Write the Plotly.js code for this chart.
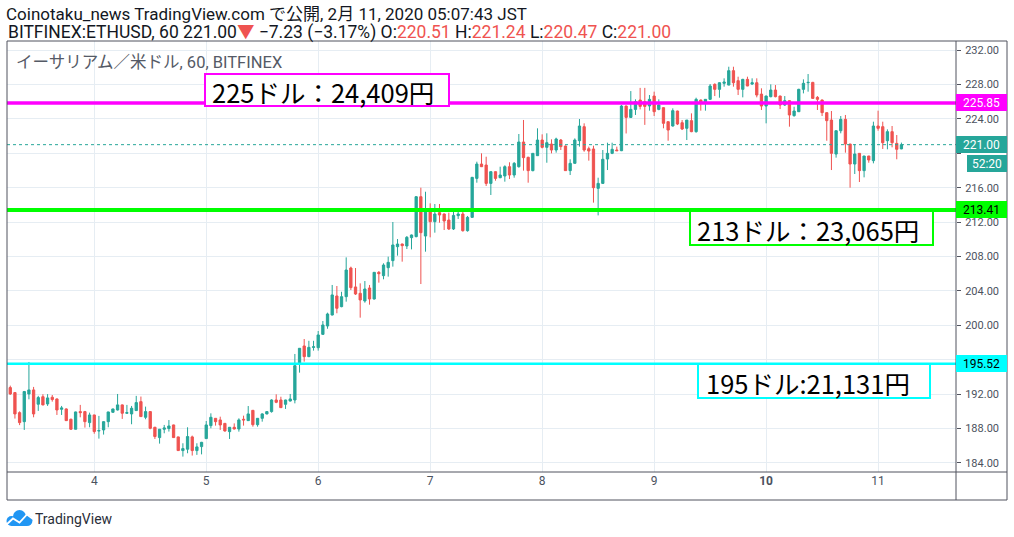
<!DOCTYPE html>
<html>
<head>
<meta charset="utf-8">
<script src="https://cdn.plot.ly/plotly-3.0.1.min.js"></script>
<style>
html,body{margin:0;padding:0;background:#fff;}
#chart{width:1014px;height:537px;}
</style>
</head>
<body>
<div id="chart"></div>
<script>
// ---- data (ETHUSD hourly, BITFINEX) ----
const startTime = '2020-02-03T06:00:00Z';
const openVals = [192.76,192.18,189.85,188.8,192.02,192.49,190.83,191.7,190.86,191.64,
191.44,190.24,190.28,189.08,187.92,189.97,189.97,188.69,189.58,187.72,
187.84,188.8,189.89,190.16,190.75,189.78,189.7,190.09,191.13,189.31,
189.97,188.15,186.95,187.92,188.0,188.42,187.03,185.44,185.6,187.03,
185.44,185.9,186.83,188.34,189.19,189.0,188.6,187.64,188.15,187.95,
189.08,188.92,190.12,188.45,189.19,189.7,189.97,191.32,191.32,190.82,
191.2,191.32,195.58,197.6,196.36,197.44,197.4,198.95,199.92,201.2,
203.41,202.17,203.33,206.66,204.46,203.72,202.83,204.34,203.06,206.16,
205.77,206.7,207.52,209.14,209.45,209.22,210.19,210.31,214.95,210.38,
213.48,212.05,213.1,212.94,212.24,211.2,212.75,212.94,211.0,212.55,
217.08,218.75,218.63,216.5,217.86,217.16,217.36,218.44,217.47,218.44,
221.31,219.53,217.98,219.72,221.54,220.69,221.07,220.38,221.54,220.84,
217.98,218.83,221.46,223.09,220.53,220.5,215.92,216.5,219.33,219.99,
220.38,220.3,225.49,224.17,225.1,226.19,226.0,225.5,226.65,225.1,
225.3,223.67,223.17,224.91,223.55,222.9,223.79,222.51,226.19,225.88,
226.27,228.01,227.43,228.13,227.93,229.6,228.44,227.43,228.59,228.05,
228.2,226.88,225.49,226.58,227.35,226.65,225.61,226.11,224.37,224.83,
227.43,228.2,228.24,226.5,226.19,224.72,223.86,219.91,222.62,223.94,
221.07,218.75,219.99,217.98,219.68,219.14,223.17,223.09,221.46,222.51,
221.15,220.51];
const highVals = [192.99,192.25,190.0,192.37,195.74,192.84,191.8,191.99,192.0,191.9,
191.5,190.63,190.35,189.15,189.97,190.75,190.05,189.85,189.6,189.47,
188.85,189.95,190.3,192.02,190.8,190.75,190.63,191.8,191.72,190.55,
190.0,188.2,187.95,188.42,188.99,188.45,187.05,186.29,188.15,187.18,
186.29,186.45,188.88,189.77,189.22,189.38,188.65,188.15,188.6,189.19,
189.5,190.62,190.15,189.22,189.78,189.97,191.4,191.98,191.7,191.35,
192.02,196.67,197.35,198.41,198.2,198.2,199.34,200.5,201.47,204.69,
204.57,203.9,207.9,206.82,206.66,204.88,205.15,204.69,206.2,206.31,
207.21,207.98,212.01,210.03,209.5,210.38,210.55,215.03,216.0,215.53,
214.18,214.1,214.1,213.0,213.1,213.21,213.29,213.48,212.71,217.25,
219.02,219.99,219.6,217.9,217.9,218.44,218.6,218.95,218.98,222.24,
223.87,219.6,220.0,222.9,222.2,222.32,221.62,221.81,221.66,220.9,
219.3,221.73,223.98,223.48,220.77,220.88,217.16,220.38,221.23,221.23,
220.77,225.6,225.55,227.23,226.27,227.6,227.6,226.77,227.16,226.27,
225.35,223.7,225.22,224.95,223.86,223.86,224.64,226.46,226.25,226.3,
228.05,228.13,228.25,228.71,230.06,230.06,228.9,228.65,228.9,228.71,
228.71,227.55,226.7,228.01,227.93,226.7,226.65,226.15,225.41,227.5,
228.59,229.21,228.3,226.65,226.25,224.75,224.91,222.65,224.33,224.45,
221.1,221.07,220.0,219.7,219.7,223.67,224.95,223.67,222.78,223.17,
222.12,221.24];
const lowVals = [191.91,189.16,188.4,187.84,191.4,189.31,190.05,190.7,190.63,191.13,
189.58,189.58,188.9,187.85,187.9,189.31,188.11,188.15,187.4,186.83,
187.3,188.15,189.85,190.1,189.12,189.7,188.5,190.05,189.35,189.08,
187.92,186.79,186.25,187.45,187.65,186.9,185.4,184.74,185.13,184.86,
184.94,185.0,186.8,188.03,188.34,187.84,187.64,186.79,187.9,187.64,
188.34,188.9,188.22,188.22,188.8,189.65,189.85,190.95,190.43,190.28,
191.15,190.93,194.5,195.78,196.3,197.06,197.06,198.9,199.6,201.15,
201.4,202.1,202.75,204.1,203.53,200.89,202.63,202.4,203.0,204.96,
205.35,205.66,206.82,208.1,207.4,208.87,208.83,210.23,204.8,208.56,
210.23,210.77,211.93,211.08,211.08,211.08,212.36,210.89,210.89,212.5,
216.58,218.4,216.2,215.15,216.81,217.1,216.7,217.0,217.16,218.33,
217.98,216.58,217.9,219.7,220.57,218.9,219.99,220.07,220.38,217.95,
217.47,218.8,220.77,220.18,219.14,214.26,212.78,216.45,218.05,219.9,
220.25,220.25,222.3,224.1,224.45,225.1,223.3,224.95,224.33,225.0,
222.9,221.46,223.1,223.28,222.7,221.54,222.45,222.39,224.95,224.95,
226.2,226.65,226.46,227.74,227.9,227.74,226.77,226.5,227.8,227.93,
226.5,225.03,223.48,226.5,226.5,225.14,225.5,223.09,224.25,224.8,
226.96,227.16,226.35,225.03,224.33,221.46,218.05,219.49,222.32,220.07,
216.0,217.59,216.66,217.2,218.9,218.83,222.62,220.5,220.46,220.69,
219.3,220.47];
const closeVals = [192.02,189.70,188.69,192.3,192.49,189.70,191.6,190.75,191.56,191.37,
190.16,190.4,188.92,187.92,189.93,189.85,188.8,189.58,187.65,187.76,
188.8,189.93,190.28,190.75,189.78,189.85,190.36,191.02,189.39,189.97,
188.03,187.07,187.92,188.07,188.3,186.95,185.44,185.67,187.07,185.44,
185.87,186.4,188.42,189.31,188.8,188.42,187.72,188.15,187.95,189.0,
189.0,189.7,188.45,189.19,189.7,189.97,191.32,191.05,190.43,191.32,
191.44,195.31,197.33,196.36,197.44,197.5,198.88,200.04,201.32,203.53,
201.98,203.33,206.43,204.38,203.64,202.95,204.22,203.06,206.16,206.0,
207.01,207.32,209.34,209.45,209.26,210.23,210.5,214.95,210.77,213.48,
212.05,212.94,212.82,212.13,211.2,212.78,212.94,211.0,212.55,217.2,
218.75,218.44,216.5,217.86,217.08,217.47,218.44,217.47,218.83,221.31,
219.49,217.98,219.99,221.54,220.69,221.23,220.38,221.66,220.77,217.98,
218.83,221.54,223.17,220.38,220.26,216.0,216.5,219.3,219.99,220.46,
220.3,225.49,224.17,225.1,226.0,225.45,225.45,226.27,224.83,225.61,
223.48,222.7,224.95,223.4,222.82,223.86,222.51,226.27,225.88,226.27,
227.82,227.43,228.2,228.28,229.6,228.2,227.43,228.59,227.82,228.2,
226.77,225.49,226.65,227.35,226.58,225.61,226.11,224.45,224.91,227.43,
228.13,228.24,226.38,226.27,224.72,223.79,219.99,222.62,223.94,221.07,
218.75,219.91,217.98,219.68,219.22,223.17,222.9,221.23,222.51,221.23,
220.46,221.00];

const dayTicks = ['2020-02-04','2020-02-05','2020-02-06','2020-02-07','2020-02-08','2020-02-09','2020-02-10','2020-02-11'];
const dayLabels = ['4','5','6','7','8','9','<b>10</b>','11'];

// price ticks; labels hidden behind the price tags are left blank
const priceTicks = [184, 188, 192, 196, 200, 204, 208, 212, 216, 220, 224, 228, 232];
const priceTickLabels = ['184.00','188.00','192.00','','200.00','204.00','208.00','212.00','216.00','','224.00','228.00','232.00'];

const levelPrices = [225.85, 213.41, 195.52];
const levelColors = ['#ff00ff', '#00ff00', '#00ffff'];
const levelLabels = ['225.85', '213.41', '195.52'];
const levelNotes = ['225ドル：24,409円', '213ドル：23,065円', '195ドル:21,131円'];
const lastPrice = 221.00;
const lastPriceLabel = '221.00';
const countdownLabel = '52:20';

const titleLine1 = 'Coinotaku_news TradingView.com で公開, 2月 11, 2020 05:07:43 JST';
const symbolLine = 'イーサリアム／米ドル, 60, BITFINEX';

// ---- times ----
const t0 = Date.parse(startTime);
const times = openVals.map((_, i) => {
  const d = new Date(t0 + i * 3600000);
  const p = n => String(n).padStart(2, '0');
  return d.getUTCFullYear() + '-' + p(d.getUTCMonth() + 1) + '-' + p(d.getUTCDate()) + ' ' + p(d.getUTCHours()) + ':00';
});

// ---- pixel helpers for layout positions ----
const PL = 7, PR = 956, PT = 41, PB = 472;
const PX = x => (x - PL) / (PR - PL);
const PY = y => (PB - y) / (PB - PT);

const up = '#26a69a', down = '#ef5350';
const frame = '#50535e';
const FONT = 'Roboto, "Noto Sans CJK JP", "DejaVu Sans", sans-serif';
const JFONT = '"Noto Sans CJK JP", sans-serif';

const trace = {
  type: 'candlestick',
  x: times, open: openVals, high: highVals, low: lowVals, close: closeVals,
  increasing: {line: {color: up, width: 1}, fillcolor: up},
  decreasing: {line: {color: down, width: 1}, fillcolor: down},
  whiskerwidth: 0,
  hoverinfo: 'skip',
  showlegend: false
};

const shapes = [];
// level lines
const widths = [3.5, 4, 2.5];
levelPrices.forEach((p, i) => {
  shapes.push({type: 'line', xref: 'paper', yref: 'y', x0: 0, x1: 1, y0: p, y1: p,
    line: {color: levelColors[i], width: widths[i]}, layer: 'above'});
});
// last price dotted line
shapes.push({type: 'line', xref: 'paper', yref: 'y', x0: 0, x1: 1, y0: lastPrice, y1: lastPrice,
  line: {color: up, width: 1, dash: 'dot'}, layer: 'above'});

// note boxes (pixel rects)
const noteBoxes = [[205, 74, 449, 106], [690, 211, 933, 245], [698, 364, 930, 398]];
noteBoxes.forEach((b, i) => {
  shapes.push({type: 'rect', xref: 'paper', yref: 'paper', x0: PX(b[0]), x1: PX(b[2]), y0: PY(b[3]), y1: PY(b[1]),
    line: {color: levelColors[i], width: 2}, fillcolor: '#ffffff', layer: 'above'});
});

// panel frame
shapes.push({type: 'rect', xref: 'paper', yref: 'paper', x0: PX(7), x1: PX(1007), y0: PY(500), y1: PY(41),
  line: {color: frame, width: 1}});
shapes.push({type: 'line', xref: 'paper', yref: 'paper', x0: PX(7), x1: PX(1007), y0: PY(472), y1: PY(472),
  line: {color: frame, width: 1}});
shapes.push({type: 'line', xref: 'paper', yref: 'paper', x0: PX(956), x1: PX(956), y0: PY(500), y1: PY(41),
  line: {color: frame, width: 1}});

// TradingView logo (cloud)
const logoBlue = '#2196f3';
const circ = (cx, cy, r) => ({type: 'circle', xref: 'paper', yref: 'paper',
  x0: PX(cx - r), x1: PX(cx + r), y0: PY(cy + r), y1: PY(cy - r),
  fillcolor: logoBlue, line: {width: 0}});
shapes.push(circ(11.5, 521, 5));
shapes.push(circ(19.5, 516.5, 6.5));
shapes.push(circ(27, 520.5, 5.5));
shapes.push({type: 'rect', xref: 'paper', yref: 'paper', x0: PX(11.5), x1: PX(27), y0: PY(526), y1: PY(518),
  fillcolor: logoBlue, line: {width: 0}});
const pth = pts => 'M' + pts.map(p => PX(p[0]) + ',' + PY(p[1])).join(' L');
shapes.push({type: 'path', xref: 'paper', yref: 'paper', path: pth([[6, 525], [13, 518.5], [19.5, 522.5], [27, 514.5], [33, 519]]),
  line: {color: '#ffffff', width: 1.8}});

const annotations = [];
// symbol line
annotations.push({xref: 'paper', yref: 'paper', x: PX(14), y: PY(62), xanchor: 'left', yanchor: 'middle',
  text: symbolLine, showarrow: false, font: {family: FONT, size: 16.5, color: '#555a66'}});
// header line 2
const red = s => '<span style="color:#ef5350">' + s + '</span>';
annotations.push({xref: 'paper', yref: 'paper', x: PX(6), y: PY(33), xanchor: 'left', yanchor: 'middle',
  text: 'BITFINEX:ETHUSD, 60 221.00' + red('▼') + ' −7.23 (−3.17%) O:' + red('220.51') + ' H:' + red('221.24') +
        ' L:' + red('220.47') + ' C:' + red('221.00'),
  showarrow: false, font: {family: FONT, size: 17.5, color: '#131722'}});
// notes
const noteTextX = [210, 695, 704];
levelNotes.forEach((t, i) => {
  const b = noteBoxes[i];
  annotations.push({xref: 'paper', yref: 'paper', x: PX(noteTextX[i]), y: PY((b[1] + b[3]) / 2 + 1), xanchor: 'left', yanchor: 'middle',
    text: t, showarrow: false, font: {family: JFONT, size: 25.5, color: '#000000'}});
});
// price labels on axis
const labelText = ['#ffffff', '#000000', '#000000'];
levelPrices.forEach((p, i) => {
  annotations.push({xref: 'paper', yref: 'y', x: 1, y: p, xanchor: 'left', yanchor: 'middle',
    text: levelLabels[i], showarrow: false, bgcolor: levelColors[i], width: 51, height: 17,
    borderpad: 0, borderwidth: 0, align: 'center', font: {family: FONT, size: 12, color: labelText[i]}});
});
annotations.push({xref: 'paper', yref: 'y', x: 1, y: lastPrice, xanchor: 'left', yanchor: 'middle',
  text: lastPriceLabel, showarrow: false, bgcolor: up, width: 51, height: 17,
  borderpad: 0, borderwidth: 0, align: 'center', font: {family: FONT, size: 12, color: '#ffffff'}});
annotations.push({xref: 'paper', yref: 'paper', x: PX(967), y: PY(163.5), xanchor: 'left', yanchor: 'middle',
  text: countdownLabel, showarrow: false, bgcolor: up, width: 40, height: 17,
  borderpad: 0, borderwidth: 0, align: 'center', font: {family: FONT, size: 12, color: '#ffffff'}});
// TradingView wordmark
annotations.push({xref: 'paper', yref: 'paper', x: PX(33), y: PY(519), xanchor: 'left', yanchor: 'middle',
  text: 'TradingView', showarrow: false, font: {family: FONT, size: 14, color: '#2a2e39'}});

const layout = {
  width: 1014, height: 537, autosize: false,
  margin: {l: PL, r: 1014 - PR, t: PT, b: 537 - PB, pad: 0},
  paper_bgcolor: '#ffffff', plot_bgcolor: '#ffffff',
  title: {text: titleLine1, xref: 'container', yref: 'container', x: 6 / 1014, xanchor: 'left',
          y: 1 - 14 / 537, yanchor: 'middle', font: {family: FONT, size: 17, color: '#131722'}},
  xaxis: {type: 'date', range: ['2020-02-03 05:18', '2020-02-11 16:42'],
          rangeslider: {visible: false}, tickmode: 'array', tickvals: dayTicks, ticktext: dayLabels,
          showgrid: true, gridcolor: '#e6edf3', gridwidth: 1, zeroline: false, showline: false,
          ticks: '', tickfont: {family: FONT, size: 12, color: '#4c525e'}, fixedrange: true},
  yaxis: {side: 'right', range: [182.95, 233.05], tickmode: 'array', tickvals: priceTicks, ticktext: priceTickLabels,
          showgrid: true, gridcolor: '#e6edf3', gridwidth: 1, zeroline: false, showline: false,
          ticks: 'outside', ticklen: 4, tickcolor: frame, ticklabelstandoff: 2,
          tickfont: {family: FONT, size: 11, color: '#4c525e'}, fixedrange: true},
  shapes: shapes,
  annotations: annotations,
  showlegend: false
};

Plotly.newPlot('chart', [trace], layout, {displayModeBar: false, staticPlot: true});
</script>
</body>
</html>
